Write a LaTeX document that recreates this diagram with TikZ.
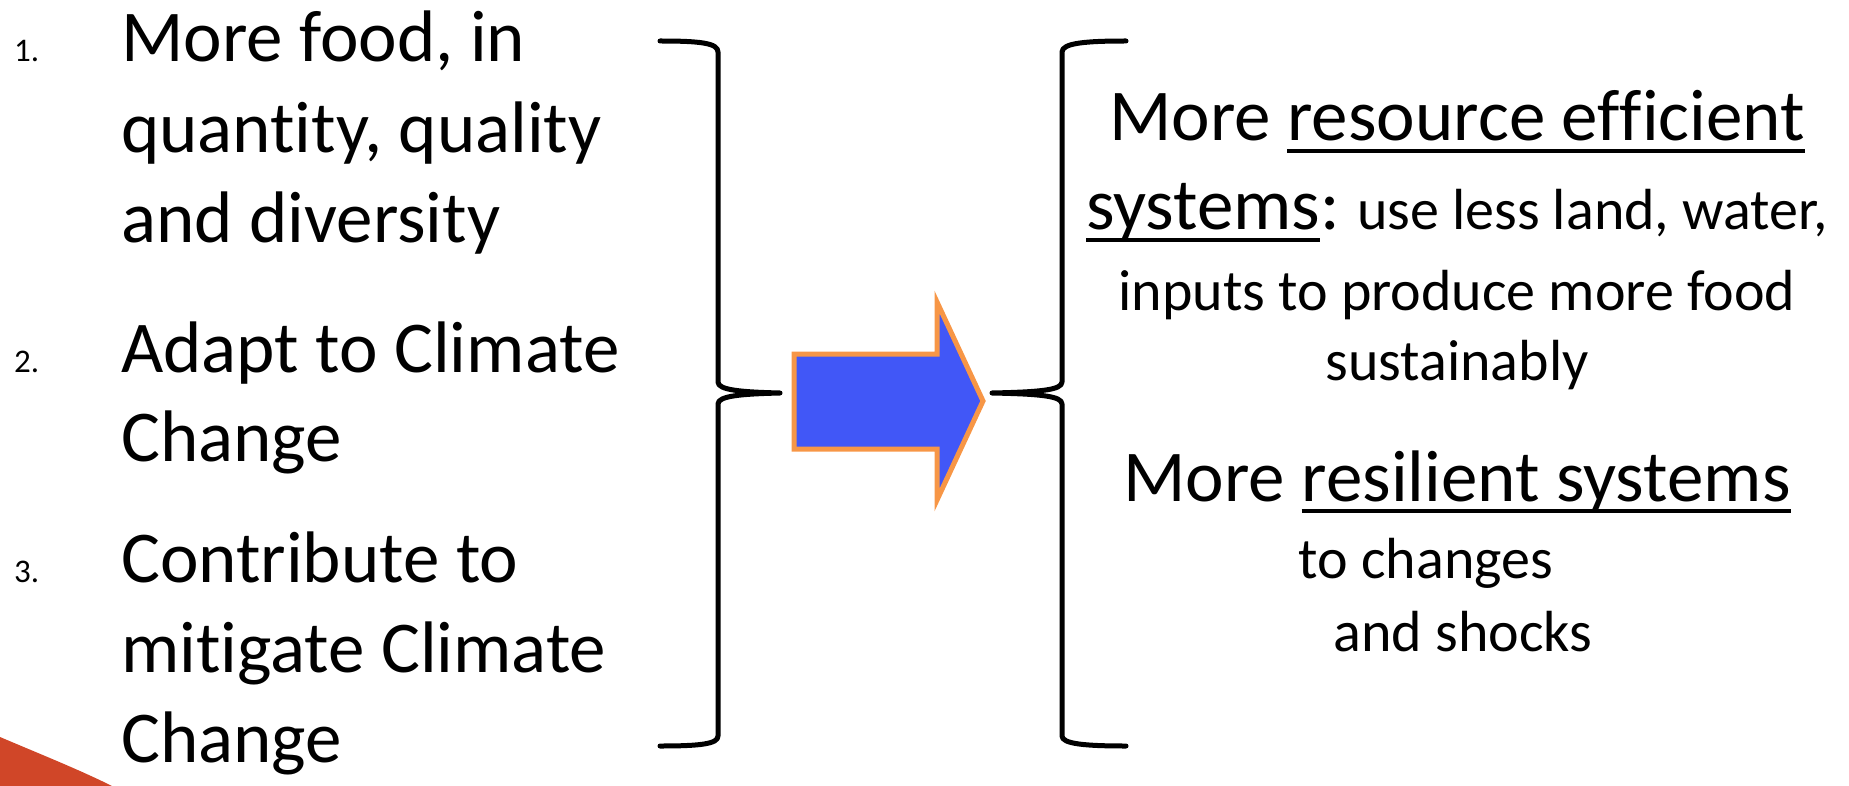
\documentclass[tikz,border=0pt]{standalone}
\usepackage{fontspec}
\setmainfont{Carlito}[Ligatures={NoCommon,NoContextual},Contextuals=NoAlternate]
\definecolor{wedgered}{RGB}{208,70,40}
\definecolor{arrowblue}{RGB}{65,87,247}
\definecolor{arroworange}{RGB}{247,150,70}
\newcommand{\fBig}{\fontsize{73}{88}\selectfont}
\newcommand{\fSmall}{\fontsize{58}{70}\selectfont}
\newcommand{\fNum}{\fontsize{33}{38}\selectfont}
\newcommand{\ulx}[1]{\setbox0\hbox{#1}\rlap{\rule[-12pt]{\wd0}{4pt}}\box0}
\newcommand{\nl}{\kern0pt{}}
\tikzset{
  bracepath/.style={line width=5pt, line cap=round, line join=round},
  bigline/.style={inner sep=0pt, anchor=base west, font=\fBig},
  numlabel/.style={inner sep=0pt, anchor=base west, font=\fNum},
  rline/.style={inner sep=0pt, anchor=base},
  arrowshape/.style={fill=arrowblue, draw=arroworange, line width=5pt, line join=miter}
}
\begin{document}
\begin{tikzpicture}[x=1pt,y=-1pt]
\useasboundingbox (0,0) rectangle (1849,786);
% decorative wedge
\fill[wedgered] (0,737) .. controls (40,754) and (80,770) .. (112,786) -- (0,786) -- cycle;
% left items
\node[numlabel] (n1) at (14,62) {1.};
\node[bigline] (a1) at (121,62) {More food, in};
\node[bigline] (a2) at (121,153) {quant\nl ity, quality};
\node[bigline] (a3) at (121,243) {and diversity};
\node[numlabel] (n2) at (14,372) {2.};
\node[bigline] (b1) at (121,372) {Adapt to Climate};
\node[bigline] (b2) at (121,461) {Change};
\node[numlabel] (n3) at (14,582) {3.};
\node[bigline] (c1) at (121,582) {Contribute to};
\node[bigline] (c2) at (121,672) {mit\nl igate Climate};
\node[bigline] (c3) at (121,762) {Change};
% left brace
\draw[bracepath] (660,41) .. controls (700,41) and (718,43) .. (718,52)
  -- (718,382) .. controls (718,390) and (740,392) .. (780,393)
  .. controls (740,394) and (718,396) .. (718,404)
  -- (718,736) .. controls (718,744) and (700,746) .. (660,746);
% arrow
\draw[arrowshape] (794,354) -- (937,354) -- (937,302) -- (983,401) -- (937,500) -- (937,449) -- (794,449) -- cycle;
% right brace
\draw[bracepath] (1126,41) .. controls (1086,41) and (1062,43) .. (1062,52)
  -- (1062,382) .. controls (1062,390) and (1040,392) .. (992,393)
  .. controls (1040,394) and (1062,396) .. (1062,404)
  -- (1062,736) .. controls (1062,744) and (1086,746) .. (1126,746);
% right text
\node[rline, font=\fBig] (r1) at (1457,141) {More \ulx{resource ef\nl f\nl icient}};
\node[rline] (r2) at (1457,230) {\fBig\ulx{systems}:\fSmall{} use less land, water,};
\node[rline, font=\fSmall] (r3) at (1457,310) {inputs to produce more food};
\node[rline, font=\fSmall] (r4) at (1457,380) {sustainably};
\node[rline, font=\fBig] (r5) at (1457,501) {More \ulx{resilient systems}};
\node[rline, font=\fSmall] (r6) at (1426,578) {to changes};
\node[rline, font=\fSmall] (r7) at (1463,651) {and shocks};
\end{tikzpicture}
\end{document}
